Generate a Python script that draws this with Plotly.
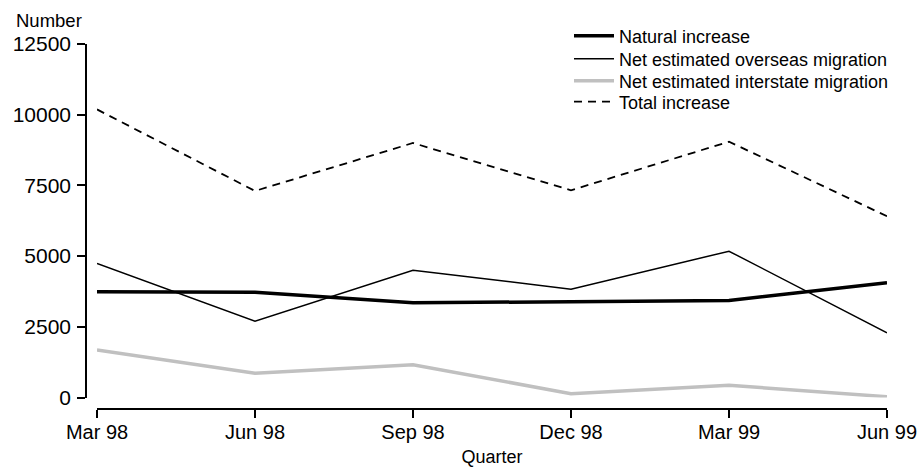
import plotly.graph_objects as go

quarters = ["Mar 98", "Jun 98", "Sep 98", "Dec 98", "Mar 99", "Jun 99"]
natural_increase = [3736, 3720, 3347, 3383, 3432, 4054]
overseas_migration = [4738, 2701, 4502, 3831, 5173, 2289]
interstate_migration = [1677, 854, 1159, 134, 431, 28]
total_increase = [10187, 7303, 9000, 7327, 9046, 6409]
y_ticks = [0, 2500, 5000, 7500, 10000, 12500]

FONT = "Liberation Sans, Arial, sans-serif"

W, H = 924, 467
ml, mr, mt, mb = 86, 37, 44, 58
pw, ph = W - ml - mr, H - mt - mb

fig = go.Figure()
fig.add_trace(go.Scatter(x=quarters, y=natural_increase, mode="lines",
                         name="Natural increase", legend="legend",
                         line=dict(color="black", width=3.5)))
fig.add_trace(go.Scatter(x=quarters, y=overseas_migration, mode="lines",
                         name="Net estimated overseas migration", legend="legend2",
                         line=dict(color="black", width=1.5)))
fig.add_trace(go.Scatter(x=quarters, y=interstate_migration, mode="lines",
                         name="Net estimated interstate migration", legend="legend3",
                         line=dict(color="#c0c0c0", width=3.5)))
fig.add_trace(go.Scatter(x=quarters, y=total_increase, mode="lines",
                         name="Total increase", legend="legend4",
                         line=dict(color="black", width=1.8, dash="8px,6px")))

leg_x = (569 - ml) / pw
row_y = [36, 59, 81, 102]  # px, centers of legend rows


def leg(yc):
    return dict(x=leg_x, y=1 + (mt - yc) / ph, xanchor="left", yanchor="middle",
                bgcolor="rgba(0,0,0,0)", font=dict(size=18), itemwidth=40)


fig.update_layout(
    template="none",
    width=W, height=H,
    margin=dict(l=ml, r=mr, t=mt, b=mb, autoexpand=False),
    paper_bgcolor="white", plot_bgcolor="white",
    font=dict(family=FONT, size=18, color="black"),
    showlegend=True,
    legend=leg(row_y[0]),
    legend2=leg(row_y[1]),
    legend3=leg(row_y[2]),
    legend4=leg(row_y[3]),
    xaxis=dict(domain=[(97 - ml) / pw, 1], anchor="free", position=0,
               type="category", range=[0, 5], automargin=False,
               showline=True, linecolor="black", linewidth=1.5,
               ticks="outside", ticklen=8, tickwidth=1.5, tickcolor="black",
               showgrid=False, zeroline=False,
               tickfont=dict(size=20), ticklabelstandoff=-3,
               title=dict(text="Quarter", font=dict(size=18), standoff=10)),
    yaxis=dict(domain=[(409 - 397.5) / ph, 1], anchor="free", position=0,
               range=[0, 12500], tickvals=y_ticks, automargin=False,
               ticktext=[str(v) for v in y_ticks],
               showline=True, linecolor="black", linewidth=1.5,
               ticks="outside", ticklen=8, tickwidth=1.5, tickcolor="black",
               showgrid=False, zeroline=False,
               tickfont=dict(size=21), ticklabelstandoff=2),
    annotations=[dict(text="Number", xref="paper", yref="paper",
                      x=(49 - ml) / pw, y=1 + (mt - 21) / ph,
                      xanchor="center", yanchor="middle", showarrow=False,
                      font=dict(size=18.5))],
)

fig.write_html("out.html",
               config={"displayModeBar": False},
               post_script="document.body.style.margin='0';document.body.style.overflow='hidden';")
